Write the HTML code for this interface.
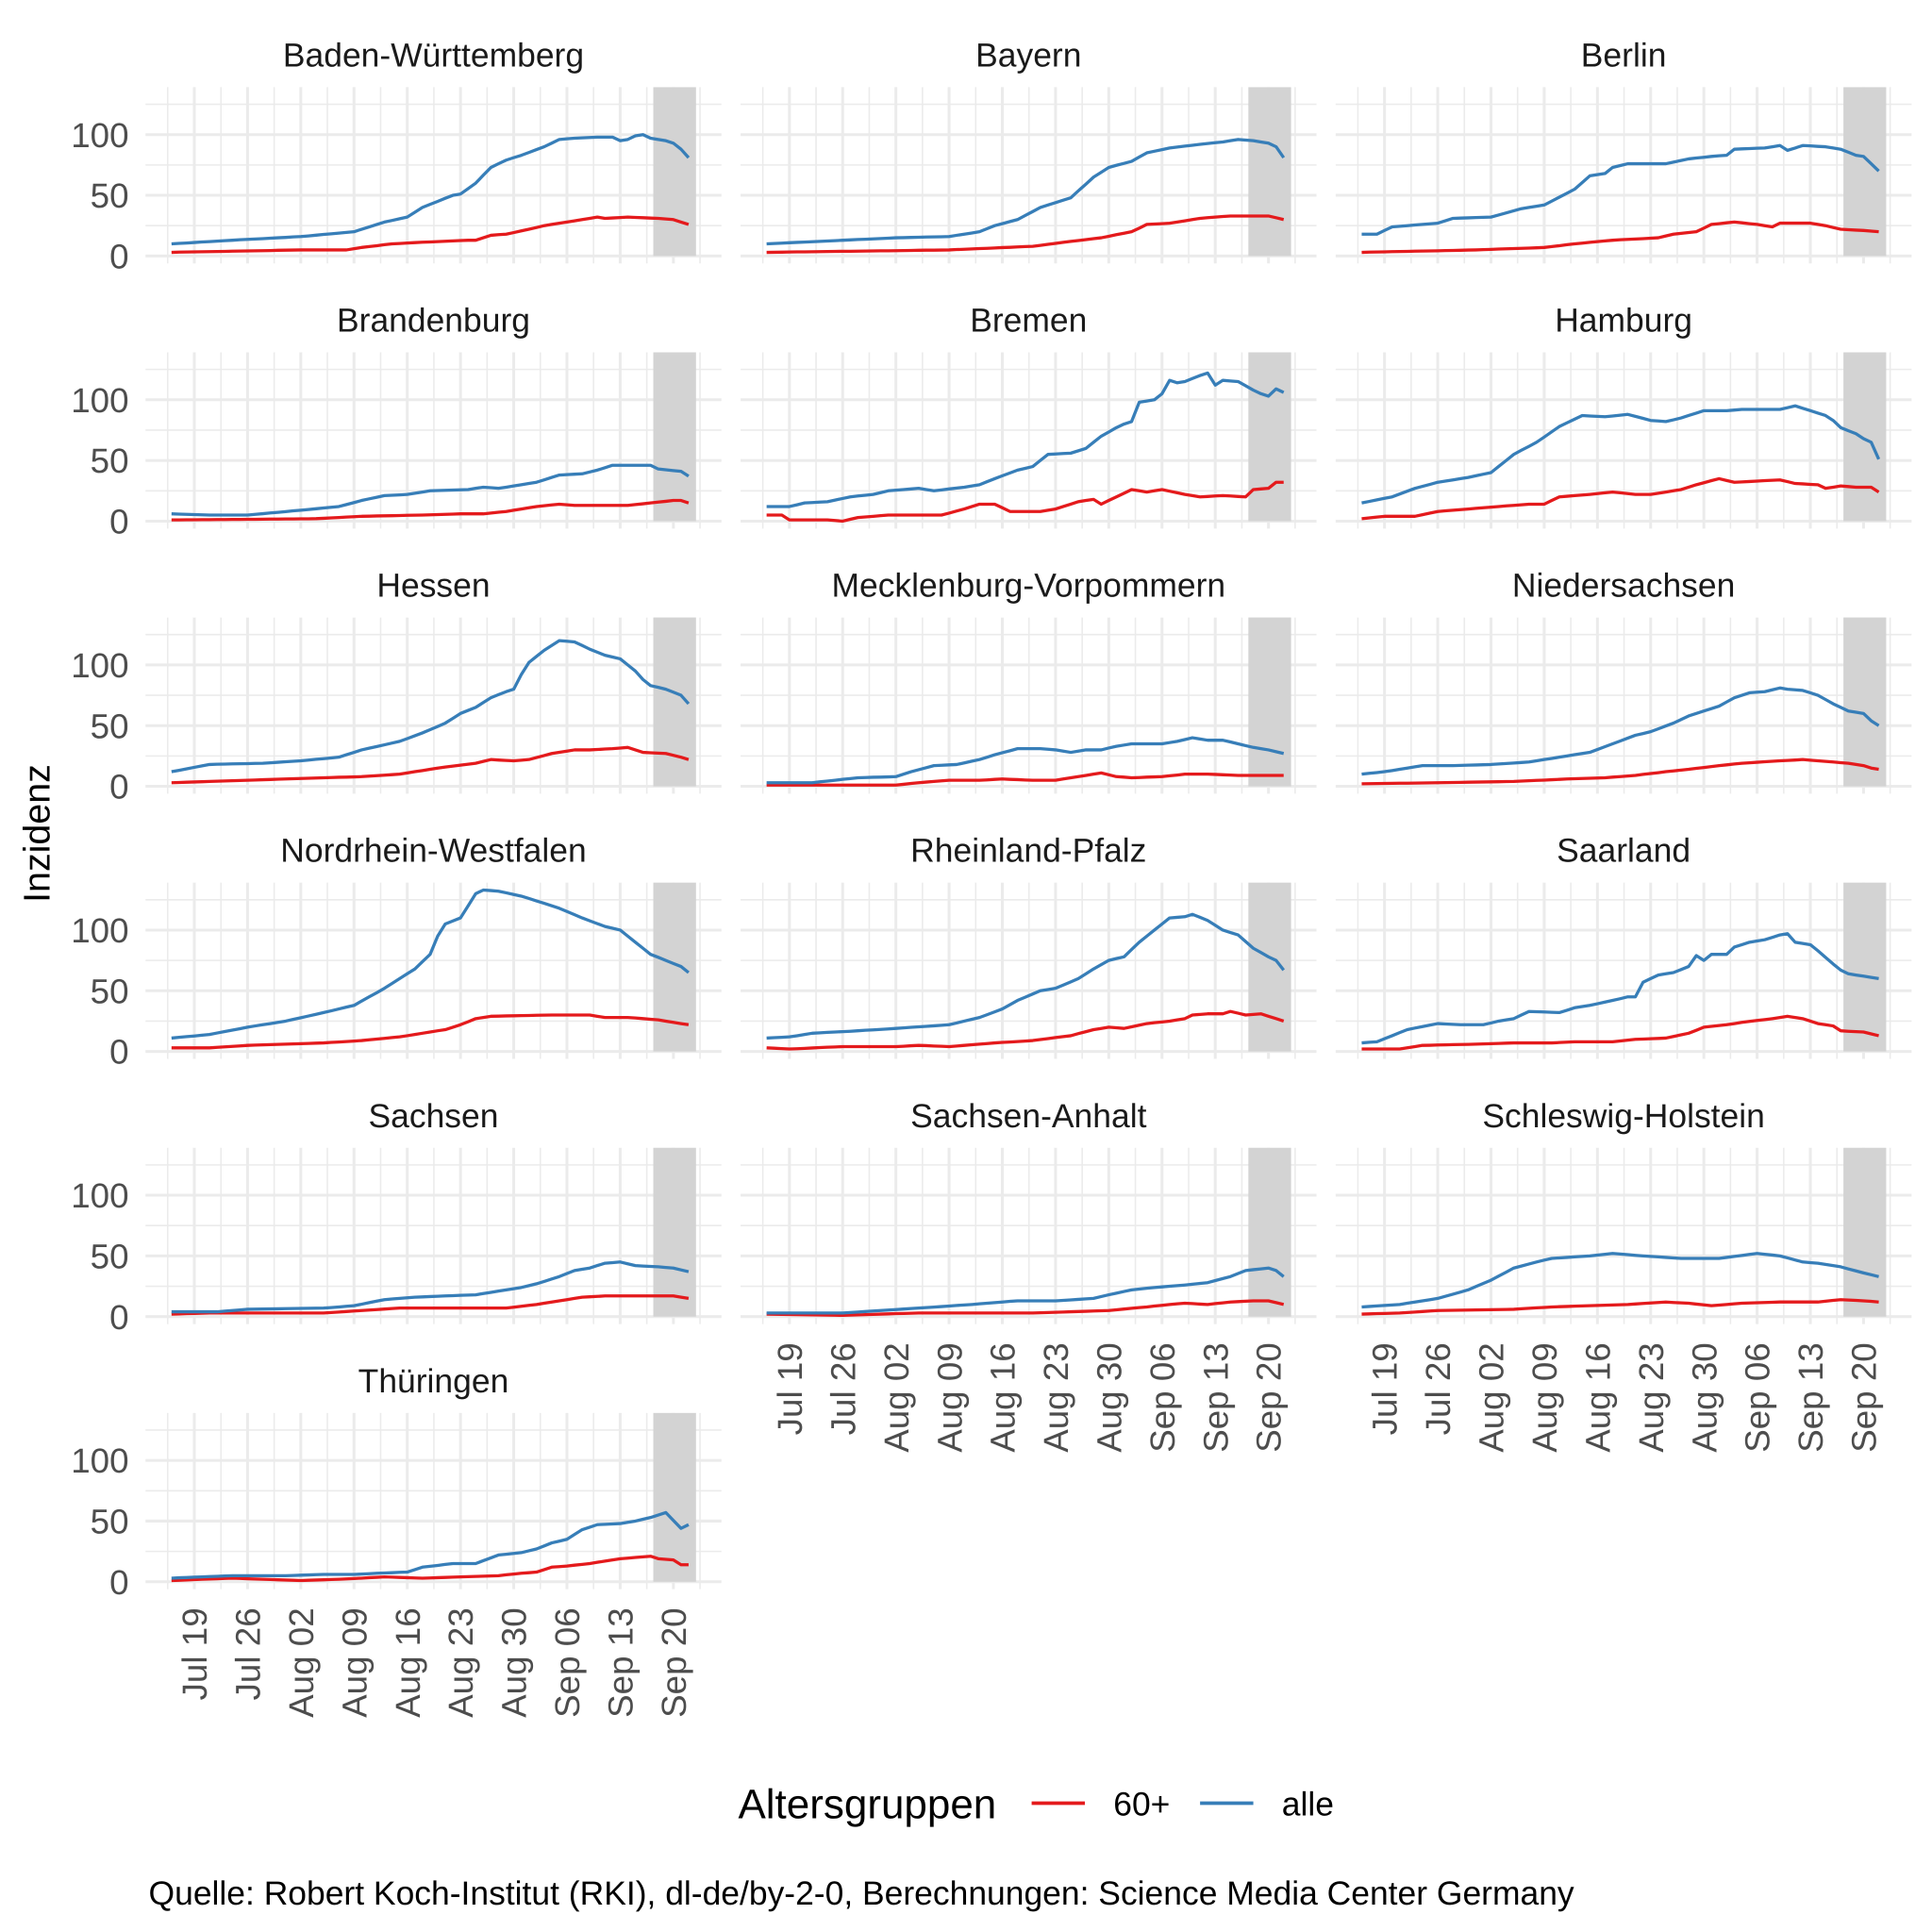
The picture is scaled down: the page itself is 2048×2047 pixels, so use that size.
<!DOCTYPE html>
<html><head><meta charset="utf-8"><style>
html,body{margin:0;padding:0;background:#fff;}
svg{display:block;}
text{font-family:"Liberation Sans",Arial,sans-serif;text-rendering:geometricPrecision;}
</style></head><body>
<div id="c"></div>
<script>
(function(){
var D=[
["Baden-Württemberg",[0,10,8,13,17,16,24,20,28,28,31,32,33,40,37,50,38,51,40,60,42,73,44,79,46,83,49,90,51,96,53,97,56,98,58,98,59,95,60,96,61,99,62,100,63,97,65,95,66,93,67,88,68,81],[0,3,17,5,23,5,25,7,29,10,32,11,39,13,40,13,42,17,44,18,47,22,49,25,53,29,55,31,56,32,57,31,60,32,64,31,66,30,68,26]],
["Bayern",[0,10,17,15,24,16,28,20,30,25,33,30,36,40,40,48,43,65,45,73,48,78,50,85,53,89,57,92,60,94,62,96,64,95,66,93,67,90,68,81],[0,3,24,5,35,8,40,12,44,15,48,20,50,26,53,27,57,31,61,33,66,33,68,30]],
["Berlin",[0,18,2,18,4,24,10,27,12,31,17,32,21,39,24,42,28,55,30,66,32,68,33,73,35,76,40,76,43,80,46,82,48,83,49,88,53,89,55,91,56,87,57,89,58,91,61,90,63,88,65,83,66,82,68,70],[0,3,15,5,24,7,28,10,33,13,39,15,41,18,44,20,46,26,49,28,52,26,54,24,55,27,59,27,61,25,63,22,66,21,68,20]],
["Brandenburg",[0,6,5,5,10,5,17,9,22,12,25,17,28,21,31,22,34,25,39,26,41,28,43,27,45,29,48,32,51,38,54,39,56,42,58,46,63,46,64,43,67,41,68,37],[0,1,19,2,25,4,33,5,38,6,41,6,44,8,48,12,51,14,53,13,56,13,60,13,63,15,66,17,67,17,68,15]],
["Bremen",[0,12,3,12,5,15,8,16,11,20,14,22,16,25,20,27,22,25,26,28,28,30,30,35,33,42,35,45,37,55,40,56,42,60,44,70,46,77,47,80,48,82,49,98,51,100,52,105,53,116,54,114,55,115,57,120,58,122,59,112,60,116,62,115,64,108,65,105,66,103,67,109,68,106],[0,5,2,5,3,1,8,1,10,0,12,3,16,5,20,5,23,5,26,10,28,14,30,14,32,8,36,8,38,10,41,16,43,18,44,14,46,20,48,26,50,24,52,26,55,22,57,20,60,21,63,20,64,26,66,27,67,32,68,32]],
["Hamburg",[0,15,4,20,7,27,10,32,14,36,17,40,20,55,23,65,26,78,29,87,32,86,35,88,38,83,40,82,42,85,45,91,48,91,50,92,55,92,57,95,59,91,61,87,62,83,63,77,65,72,66,68,67,65,68,51],[0,2,3,4,7,4,10,8,14,10,18,12,22,14,24,14,26,20,30,22,33,24,36,22,38,22,40,24,42,26,44,30,47,35,49,32,52,33,55,34,57,31,60,30,61,27,63,29,65,28,67,28,68,24]],
["Hessen",[0,12,5,18,12,19,17,21,22,24,25,30,30,37,33,44,36,52,38,60,40,65,42,73,44,78,45,80,46,92,47,102,49,112,51,120,53,119,55,113,57,108,59,105,61,95,62,88,63,83,65,80,67,75,68,68],[0,3,10,5,20,7,25,8,30,10,35,15,40,19,42,22,45,21,47,22,50,27,53,30,55,30,58,31,60,32,62,28,65,27,67,24,68,22]],
["Mecklenburg-Vorpommern",[0,3,3,3,6,3,9,5,12,7,17,8,19,12,22,17,25,18,28,22,30,26,33,31,36,31,38,30,40,28,42,30,44,30,46,33,48,35,52,35,54,37,56,40,58,38,60,38,62,35,64,32,66,30,68,27],[0,1,8,1,17,1,20,3,24,5,28,5,31,6,35,5,38,5,41,8,44,11,46,8,48,7,52,8,55,10,58,10,62,9,68,9]],
["Niedersachsen",[0,10,3,12,6,15,8,17,12,17,17,18,22,20,26,24,30,28,33,35,36,42,38,45,41,52,43,58,45,62,47,66,49,73,51,77,53,78,55,81,56,80,58,79,60,75,62,68,64,62,66,60,67,54,68,50],[0,2,10,3,20,4,27,6,32,7,36,9,40,12,43,14,47,17,50,19,55,21,58,22,60,21,64,19,66,17,67,15,68,14]],
["Nordrhein-Westfalen",[0,11,5,14,10,20,15,25,20,32,24,38,26,45,28,52,30,60,32,68,34,80,35,95,36,105,38,110,39,120,40,130,41,133,43,132,46,128,49,122,51,118,54,110,57,103,59,100,61,90,63,80,65,75,67,70,68,65],[0,3,5,3,10,5,20,7,25,9,30,12,33,15,36,18,38,22,40,27,42,29,50,30,55,30,57,28,60,28,64,26,68,22]],
["Rheinland-Pfalz",[0,11,3,12,6,15,12,17,17,19,24,22,28,28,31,35,33,42,36,50,38,52,41,60,43,68,45,75,47,78,49,90,51,100,53,110,55,111,56,113,58,108,60,100,62,96,64,85,66,78,67,75,68,67],[0,3,3,2,10,4,17,4,20,5,24,4,30,7,35,9,40,13,43,18,45,20,47,19,50,23,53,25,55,27,56,30,58,31,60,31,61,33,63,30,65,31,67,27,68,25]],
["Saarland",[0,7,2,8,4,13,6,18,10,23,13,22,16,22,18,25,20,27,22,33,26,32,28,36,30,38,33,42,35,45,36,45,37,57,39,63,41,65,43,70,44,79,45,75,46,80,48,80,49,86,51,90,53,92,55,96,56,97,57,90,59,88,60,83,62,72,63,67,64,64,66,62,68,60],[0,2,5,2,8,5,15,6,20,7,25,7,28,8,33,8,36,10,40,11,43,15,45,20,48,22,50,24,54,27,56,29,58,27,60,23,62,21,63,17,66,16,68,13]],
["Sachsen",[0,4,6,4,10,6,20,7,24,9,28,14,32,16,36,17,40,18,44,22,46,24,48,27,51,33,53,38,55,40,57,44,59,45,61,42,64,41,66,40,68,37],[0,2,5,3,20,3,25,5,30,7,40,7,44,7,48,10,51,13,54,16,57,17,61,17,64,17,66,17,68,15]],
["Sachsen-Anhalt",[0,3,10,3,15,5,20,7,27,10,33,13,38,13,43,15,45,18,48,22,51,24,55,26,58,28,61,33,63,38,66,40,67,38,68,33],[0,2,10,1,15,2,20,3,25,3,30,3,35,3,40,4,45,5,50,8,53,10,55,11,58,10,61,12,64,13,66,13,68,10]],
["Schleswig-Holstein",[0,8,5,10,10,15,14,22,17,30,20,40,23,45,25,48,30,50,33,52,37,50,42,48,47,48,52,52,55,50,58,45,60,44,63,41,66,36,68,33],[0,2,5,3,10,5,20,6,25,8,30,9,35,10,40,12,43,11,46,9,50,11,55,12,60,12,63,14,66,13,68,12]],
["Thüringen",[0,3,8,5,15,5,20,6,24,6,27,7,31,8,33,12,37,15,40,15,43,22,46,24,48,27,50,32,52,35,54,43,56,47,59,48,61,50,63,53,65,57,67,44,68,47],[0,1,8,3,12,2,17,1,22,2,25,3,28,4,33,3,38,4,43,5,46,7,48,8,50,12,52,13,55,15,57,17,59,19,61,20,63,21,64,19,66,18,67,14,68,14]]
];
var dates=["Jul 19","Jul 26","Aug 02","Aug 09","Aug 16","Aug 23","Aug 30","Sep 06","Sep 13","Sep 20"];
function interp(q){var pts=[];for(var d=0;d<=68;d++){var v=q[q.length-1];for(var i=0;i<q.length-2;i+=2){if(d>=q[i]&&d<=q[i+2]){var t=(d-q[i])/(q[i+2]-q[i]);v=q[i+1]+t*(q[i+3]-q[i+1]);break;}}pts.push(v);}return pts;}
var grid="",bands="",lines="",txt="";
for(var p=0;p<16;p++){
 var r=Math.floor(p/3),c=p%3;
 var ox=c*480.5-2.5, z=206.7+r*214.1, pt=z-136.3, pb=z+6;
 var L=120+ox, R=585+ox;
 var X=function(d){return 141+ox+d*6.14;};
 var Y=function(v){return z-v*0.98;};
 [25,75,125].forEach(function(v){grid+='<line x1="'+L+'" x2="'+R+'" y1="'+Y(v)+'" y2="'+Y(v)+'" stroke="#ebebeb" stroke-width="1.2"/>';});
 [0,50,100].forEach(function(v){grid+='<line x1="'+L+'" x2="'+R+'" y1="'+Y(v)+'" y2="'+Y(v)+'" stroke="#ebebeb" stroke-width="2.3"/>';});
 for(var k=0;k<=20;k++){var d=-0.5+k*3.5;var maj=(k%2==1);grid+='<line x1="'+X(d)+'" x2="'+X(d)+'" y1="'+pt+'" y2="'+pb+'" stroke="#ebebeb" stroke-width="'+(maj?2.3:1.2)+'"/>';}
 bands+='<rect x="'+(530+ox)+'" y="'+pt+'" width="34.5" height="'+(z-pt)+'" fill="#d3d3d3"/>';
 [[D[p][2],"#e41a1c"],[D[p][1],"#377eb8"]].forEach(function(q){var v=interp(q[0]);var pp=v.map(function(y,i){return X(i).toFixed(1)+","+Y(y).toFixed(1);}).join(" ");lines+='<polyline points="'+pp+'" fill="none" stroke="'+q[1]+'" stroke-width="2.5" stroke-linejoin="round"/>';});
 txt+='<text x="'+(352.5+ox)+'" y="'+(z-153)+'" text-anchor="middle" font-size="27" fill="#1a1a1a">'+D[p][0]+'</text>';
 if(c==0){[0,50,100].forEach(function(v){txt+='<text x="104" y="'+(Y(v)+10)+'" text-anchor="end" font-size="28" fill="#4d4d4d">'+v+'</text>';});}
 if(p>=13){dates.forEach(function(t,i){var x=X(3+i*7)+10,y=z+21;txt+='<text x="'+x.toFixed(1)+'" y="'+y+'" transform="rotate(-90 '+x.toFixed(1)+' '+y+')" text-anchor="end" font-size="28" fill="#4d4d4d">'+t+'</text>';});}
}
var svg='<svg width="2048" height="2047" viewBox="0 0 1560 1559.2" preserveAspectRatio="none" xmlns="http://www.w3.org/2000/svg">'+
'<rect width="1560" height="1560" fill="#fff"/>'+grid+bands+lines+txt+
'<text x="30" y="673" transform="rotate(-90 30 673)" text-anchor="middle" dy="10" font-size="30" fill="#000">Inzidenz</text>'+
'<text x="596" y="1468" font-size="33.5" fill="#000">Altersgruppen</text>'+
'<line x1="833" y1="1456" x2="876" y2="1456" stroke="#e41a1c" stroke-width="2.8"/>'+
'<text x="899" y="1466" font-size="27" fill="#000">60+</text>'+
'<line x1="969" y1="1456" x2="1012" y2="1456" stroke="#377eb8" stroke-width="2.8"/>'+
'<text x="1035" y="1466" font-size="27" fill="#000">alle</text>'+
'<text x="120" y="1538" font-size="27" fill="#000">Quelle: Robert Koch-Institut (RKI), dl-de/by-2-0, Berechnungen: Science Media Center Germany</text>'+
'</svg>';
document.getElementById("c").innerHTML=svg;
})();
</script>
</body></html>
